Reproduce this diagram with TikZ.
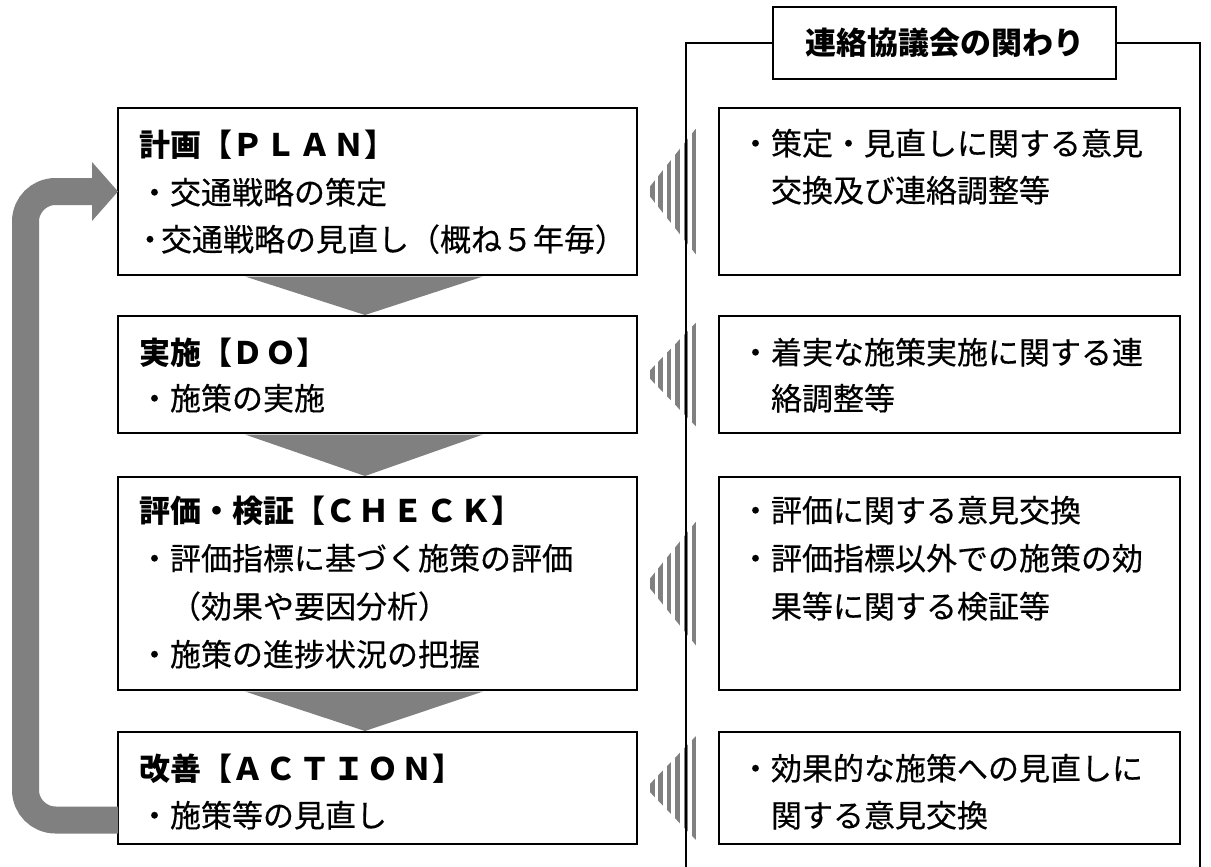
\documentclass[tikz,border=0pt]{standalone}
\usepackage{fontspec}
\setmainfont{Noto Sans CJK JP}
\newfontfamily\medfont{Noto Sans CJK JP}[FakeBold=0.4]
\usetikzlibrary{calc}
\definecolor{grayc}{HTML}{808080}
\newcommand{\stripearrow}[2]{%
  \begin{scope}
    \clip (646,#1) -- (696,{#1-#2}) -- (696,{#1+#2}) -- cycle;
    \foreach \sx in {650,658.4,...,694}{\fill[grayc] (\sx,{#1-#2}) rectangle ++(4.6,{2*#2});}
  \end{scope}}
\newcommand{\fw}{\kern3pt\relax}
\tikzset{
  lbox/.style={draw=black, line width=1.3pt, rectangle, inner sep=0pt, outer sep=0pt, fill=white, minimum width=519pt},
  rbox/.style={draw=black, line width=1.3pt, rectangle, inner sep=0pt, outer sep=0pt, fill=white, minimum width=461pt},
  txt/.style={anchor=base west, inner sep=0pt, outer sep=0pt, font=\fontsize{31}{31}\selectfont\medfont},
  head/.style={txt, font=\fontsize{31}{31}\selectfont\bfseries},
  frameline/.style={draw=black, line width=2pt},
  chev/.style={fill=grayc},
  loopline/.style={draw=grayc, line width=27pt, rounded corners=30pt},
}
\begin{document}
\begin{tikzpicture}[x=1pt,y=-1pt]
\useasboundingbox (0,0) rectangle (1211,867);
\fill[white] (0,0) rectangle (1211,867);

% left boxes
\node[lbox, minimum height=167pt] (b1) at (377.5,191.5) {};
\node[lbox, minimum height=117pt] (b2) at (377.5,374.5) {};
\node[lbox, minimum height=213pt] (b3) at (377.5,583.5) {};
\node[lbox, minimum height=112pt] (b4) at (377.5,788) {};

% right boxes
\node[rbox, minimum height=167pt] (r1) at (949.5,191.5) {};
\node[rbox, minimum height=117pt] (r2) at (949.5,374.5) {};
\node[rbox, minimum height=213pt] (r3) at (949.5,583.5) {};
\node[rbox, minimum height=112pt] (r4) at (949.5,788) {};

% chevrons
\fill[chev] ([xshift=-132.5pt,yshift=-1.5pt]b1.south) -- ([xshift=105.5pt,yshift=-1.5pt]b1.south) -- ([xshift=-12.5pt,yshift=1pt]b2.north) -- cycle;
\fill[chev] ([xshift=-132.5pt,yshift=-1.5pt]b2.south) -- ([xshift=105.5pt,yshift=-1.5pt]b2.south) -- ([xshift=-12.5pt,yshift=1pt]b3.north) -- cycle;
\fill[chev] ([xshift=-132.5pt,yshift=-1.5pt]b3.south) -- ([xshift=105.5pt,yshift=-1.5pt]b3.south) -- ([xshift=-12.5pt,yshift=1pt]b4.north) -- cycle;

% loop arrow
\coordinate (lstart) at ([yshift=-32pt]b4.west);
\coordinate (lend) at ($(b1.west)+(-26,0)$);
\draw[loopline] (lstart) -- (lstart -| 25.5,0) -- (25.5,0 |- lend) -- (lend);
\fill[grayc] ($(b1.west)+(-26,-29.5)$) -- (b1.west) -- ($(b1.west)+(-26,29.5)$) -- cycle;

% striped arrows
\stripearrow{191.5}{63}
\stripearrow{374.5}{52}
\stripearrow{583.5}{62}
\stripearrow{788}{52}

% frame and title
\node[draw=black, line width=1.3pt, fill=white, inner sep=0pt, minimum width=343pt, minimum height=72pt, font=\fontsize{31}{31}\selectfont\bfseries] (title) at (944.5,43) {連絡協議会の関わり};
\draw[frameline] (title.west) -- (title.west -| 686,0) -- (686,875);
\draw[frameline] (title.east) -- (title.east -| 1200,0) -- (1200,875);

% left texts
\node[head] (t1a) at (139,157) {計画【Ｐ\fw{}Ｌ\fw{}Ａ\fw{}Ｎ】};
\node[txt]  (t1b) at (139,204) {・交通戦略の策定};
\node[txt]  (t1c) at (139,251) {\makebox[22pt][c]{・}交通戦略の見直し（概ね５年毎）};

\node[head] (t2a) at (139,364) {実施【Ｄ\fw{}Ｏ】};
\node[txt]  (t2b) at (139,410) {・施策の実施};

\node[head] (t3a) at (139,522) {評価・検証【Ｃ\fw{}Ｈ\fw{}Ｅ\fw{}Ｃ\fw{}Ｋ】};
\node[txt]  (t3b) at (139,570) {・評価指標に基づく施策の評価};
\node[txt]  (t3c) at (139,618) {　（効果や要因分析）};
\node[txt]  (t3d) at (139,666) {・施策の進捗状況の把握};

\node[head] (t4a) at (139,780) {改善【Ａ\fw{}Ｃ\fw{}Ｔ\fw{}Ｉ\fw{}Ｏ\fw{}Ｎ】};
\node[txt]  (t4b) at (139,827) {・施策等の見直し};

% right texts
\node[txt] (s1a) at (740,155) {・策定・見直しに関する意見};
\node[txt] (s1b) at (740,202) {　交換及び連絡調整等};

\node[txt] (s2a) at (740,364) {・着実な施策実施に関する連};
\node[txt] (s2b) at (740,410) {　絡調整等};

\node[txt] (s3a) at (740,522) {・評価に関する意見交換};
\node[txt] (s3b) at (740,570) {・評価指標以外での施策の効};
\node[txt] (s3c) at (740,618) {　果等に関する検証等};

\node[txt] (s4a) at (740,780) {・効果的な施策への見直しに};
\node[txt] (s4b) at (740,827) {　関する意見交換};
\end{tikzpicture}
\end{document}
